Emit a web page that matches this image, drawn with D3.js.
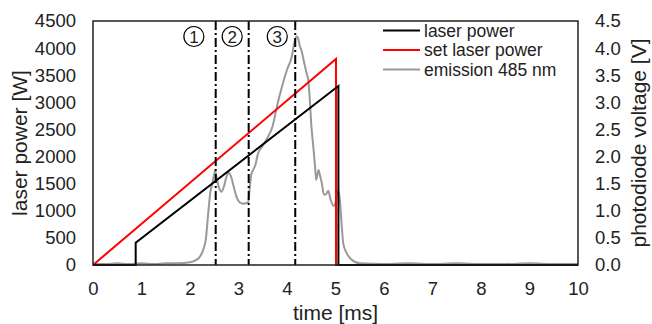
<!DOCTYPE html>
<html><head><meta charset="utf-8">
<script src="https://cdn.jsdelivr.net/npm/d3@7"></script>
<style>body{margin:0;background:#fff}svg{display:block}text{font-family:"Liberation Sans",Arial,sans-serif;fill:#222}</style>
</head><body><svg id="c" width="652" height="324"></svg>
<script>
// ---- data ----
const xTicks = [0,1,2,3,4,5,6,7,8,9,10];
const leftTicks = [0,500,1000,1500,2000,2500,3000,3500,4000,4500];
const rightTicks = [0,0.5,1,1.5,2,2.5,3,3.5,4,4.5];
// set laser power [W]
const setTime  = [0, 5.01, 5.01, 10];
const setPower = [0, 3800, 0, 0];
// measured laser power [W]
const lpTime  = [0, 0.88, 0.88, 5.06, 5.06, 10];
const lpPower = [0, 0, 410, 3300, 0, 0];
// emission 485 nm [V]
const emTime = [0,0.25,0.5,0.75,1.0,1.25,1.5,1.75,2.0,2.1,2.2,2.28,2.33,2.36,2.39,2.42,2.46,2.5,2.52,2.55,2.6,2.65,2.7,2.75,2.8,2.85,2.9,2.95,3.0,3.05,3.1,3.15,3.2,3.23,3.26,3.3,3.35,3.4,3.5,3.6,3.7,3.8,3.9,4.0,4.1,4.15,4.2,4.23,4.26,4.3,4.35,4.4,4.44,4.47,4.5,4.54,4.58,4.6,4.63,4.65,4.68,4.72,4.76,4.8,4.85,4.9,4.96,5.0,5.03,5.06,5.09,5.13,5.16,5.23,5.33,5.5,6,6.5,7,7.5,8,8.5,9,9.5,10];
const emV    = [0.02,0.02,0.03,0.02,0.03,0.02,0.03,0.03,0.05,0.08,0.15,0.3,0.5,0.8,1.1,1.35,1.5,1.68,1.74,1.6,1.42,1.35,1.45,1.62,1.70,1.62,1.45,1.28,1.18,1.14,1.13,1.14,1.16,1.4,1.65,1.75,1.85,2.05,2.2,2.35,2.55,2.95,3.3,3.6,3.85,4.1,4.22,4.18,4.05,3.95,3.75,3.55,3.4,3.05,2.6,2.2,1.8,1.57,1.68,1.75,1.65,1.5,1.3,1.3,1.37,1.2,1.09,1.15,1.3,1.38,1.2,0.7,0.4,0.22,0.1,0.03,0.02,0.03,0.02,0.03,0.02,0.02,0.03,0.02,0.02];
// phase markers [ms] and labels
const markTime = [2.53, 3.21, 4.17];
const phaseTime = [2.08, 2.87, 3.8];
const phaseLabel = ["1","2","3"];
const legendNames = ["laser power","set laser power","emission 485 nm"];
const legendColors = ["#000000","#ff0000","#999999"];

// ---- layout ----
const W=652,H=324, m={l:93,r:74,t:21,b:59};
const svg=d3.select("#c");
const x=d3.scaleLinear().domain([0,10]).range([m.l,W-m.r]);
const yL=d3.scaleLinear().domain([0,4500]).range([H-m.b,m.t]);
const yR=d3.scaleLinear().domain([0,4.5]).range([H-m.b,m.t]);

// axes
const fs=18.5, tfs=21;
const ax=svg.append("g").attr("transform",`translate(0,${H-m.b})`)
  .call(d3.axisBottom(x).tickValues(xTicks).tickSize(0).tickPadding(17).tickFormat(d3.format("d")));
const al=svg.append("g").attr("transform",`translate(${m.l},0)`)
  .call(d3.axisLeft(yL).tickValues(leftTicks).tickSize(0).tickPadding(17).tickFormat(d3.format("d")));
const ar=svg.append("g").attr("transform",`translate(${W-m.r},0)`)
  .call(d3.axisRight(yR).tickValues(rightTicks).tickSize(0).tickPadding(17).tickFormat(d3.format(".1f")));
[ax,al,ar].forEach(g=>{g.select(".domain").remove();g.selectAll("text").attr("font-size",fs).attr("font-family","Liberation Sans, Arial, sans-serif").attr("fill","#222");});

// titles
svg.append("text").attr("x",(m.l+W-m.r)/2).attr("y",320).attr("text-anchor","middle").attr("font-size",tfs).text("time [ms]");
svg.append("text").attr("transform",`translate(27,${(m.t+H-m.b)/2}) rotate(-90)`).attr("text-anchor","middle").attr("font-size",tfs).text("laser power [W]");
svg.append("text").attr("transform",`translate(646,${(m.t+H-m.b)/2}) rotate(-90)`).attr("text-anchor","middle").attr("font-size",tfs).text("photodiode voltage [V]");

// series
svg.append("clipPath").attr("id","pc").append("rect").attr("x",m.l).attr("y",m.t).attr("width",W-m.l-m.r).attr("height",H-m.t-m.b+2);
const g=svg.append("g").attr("clip-path","url(#pc)");
const lineL=d3.line().x(d=>x(d[0])).y(d=>yL(d[1]));
const lineR=d3.line().x(d=>x(d[0])).y(d=>yR(d[1])).curve(d3.curveMonotoneX);
g.append("path").datum(d3.zip(emTime,emV)).attr("d",lineR).attr("fill","none").attr("stroke","#999999").attr("stroke-width",2);
g.append("path").datum(d3.zip(setTime,setPower)).attr("d",lineL).attr("fill","none").attr("stroke","#ff0000").attr("stroke-width",2);
g.append("path").datum(d3.zip(lpTime,lpPower)).attr("d",lineL).attr("fill","none").attr("stroke","#000000").attr("stroke-width",2);

// dash-dot markers
markTime.forEach(t=>{
  svg.append("line").attr("x1",x(t)).attr("x2",x(t)).attr("y1",m.t).attr("y2",H-m.b)
    .attr("stroke","#000").attr("stroke-width",2).attr("stroke-dasharray","9,3,2,3");
});
// phase circles
phaseTime.forEach((t,i)=>{
  svg.append("circle").attr("cx",x(t)).attr("cy",36.5).attr("r",10).attr("fill","#fff").attr("stroke","#000").attr("stroke-width",1.2);
  svg.append("text").attr("x",x(t)).attr("y",42.8).attr("text-anchor","middle").attr("font-size",17).text(phaseLabel[i]);
});

// frame
svg.append("rect").attr("x",m.l).attr("y",m.t).attr("width",W-m.l-m.r).attr("height",H-m.t-m.b)
  .attr("fill","none").attr("stroke","#222").attr("stroke-width",1.5);

// legend
legendNames.forEach((n,i)=>{
  const yy=30.5+i*19.5;
  svg.append("line").attr("x1",383).attr("x2",420).attr("y1",yy).attr("y2",yy).attr("stroke",legendColors[i]).attr("stroke-width",2);
  svg.append("text").attr("x",424).attr("y",yy+6).attr("font-size",17.5).text(n);
});
</script></body></html>
